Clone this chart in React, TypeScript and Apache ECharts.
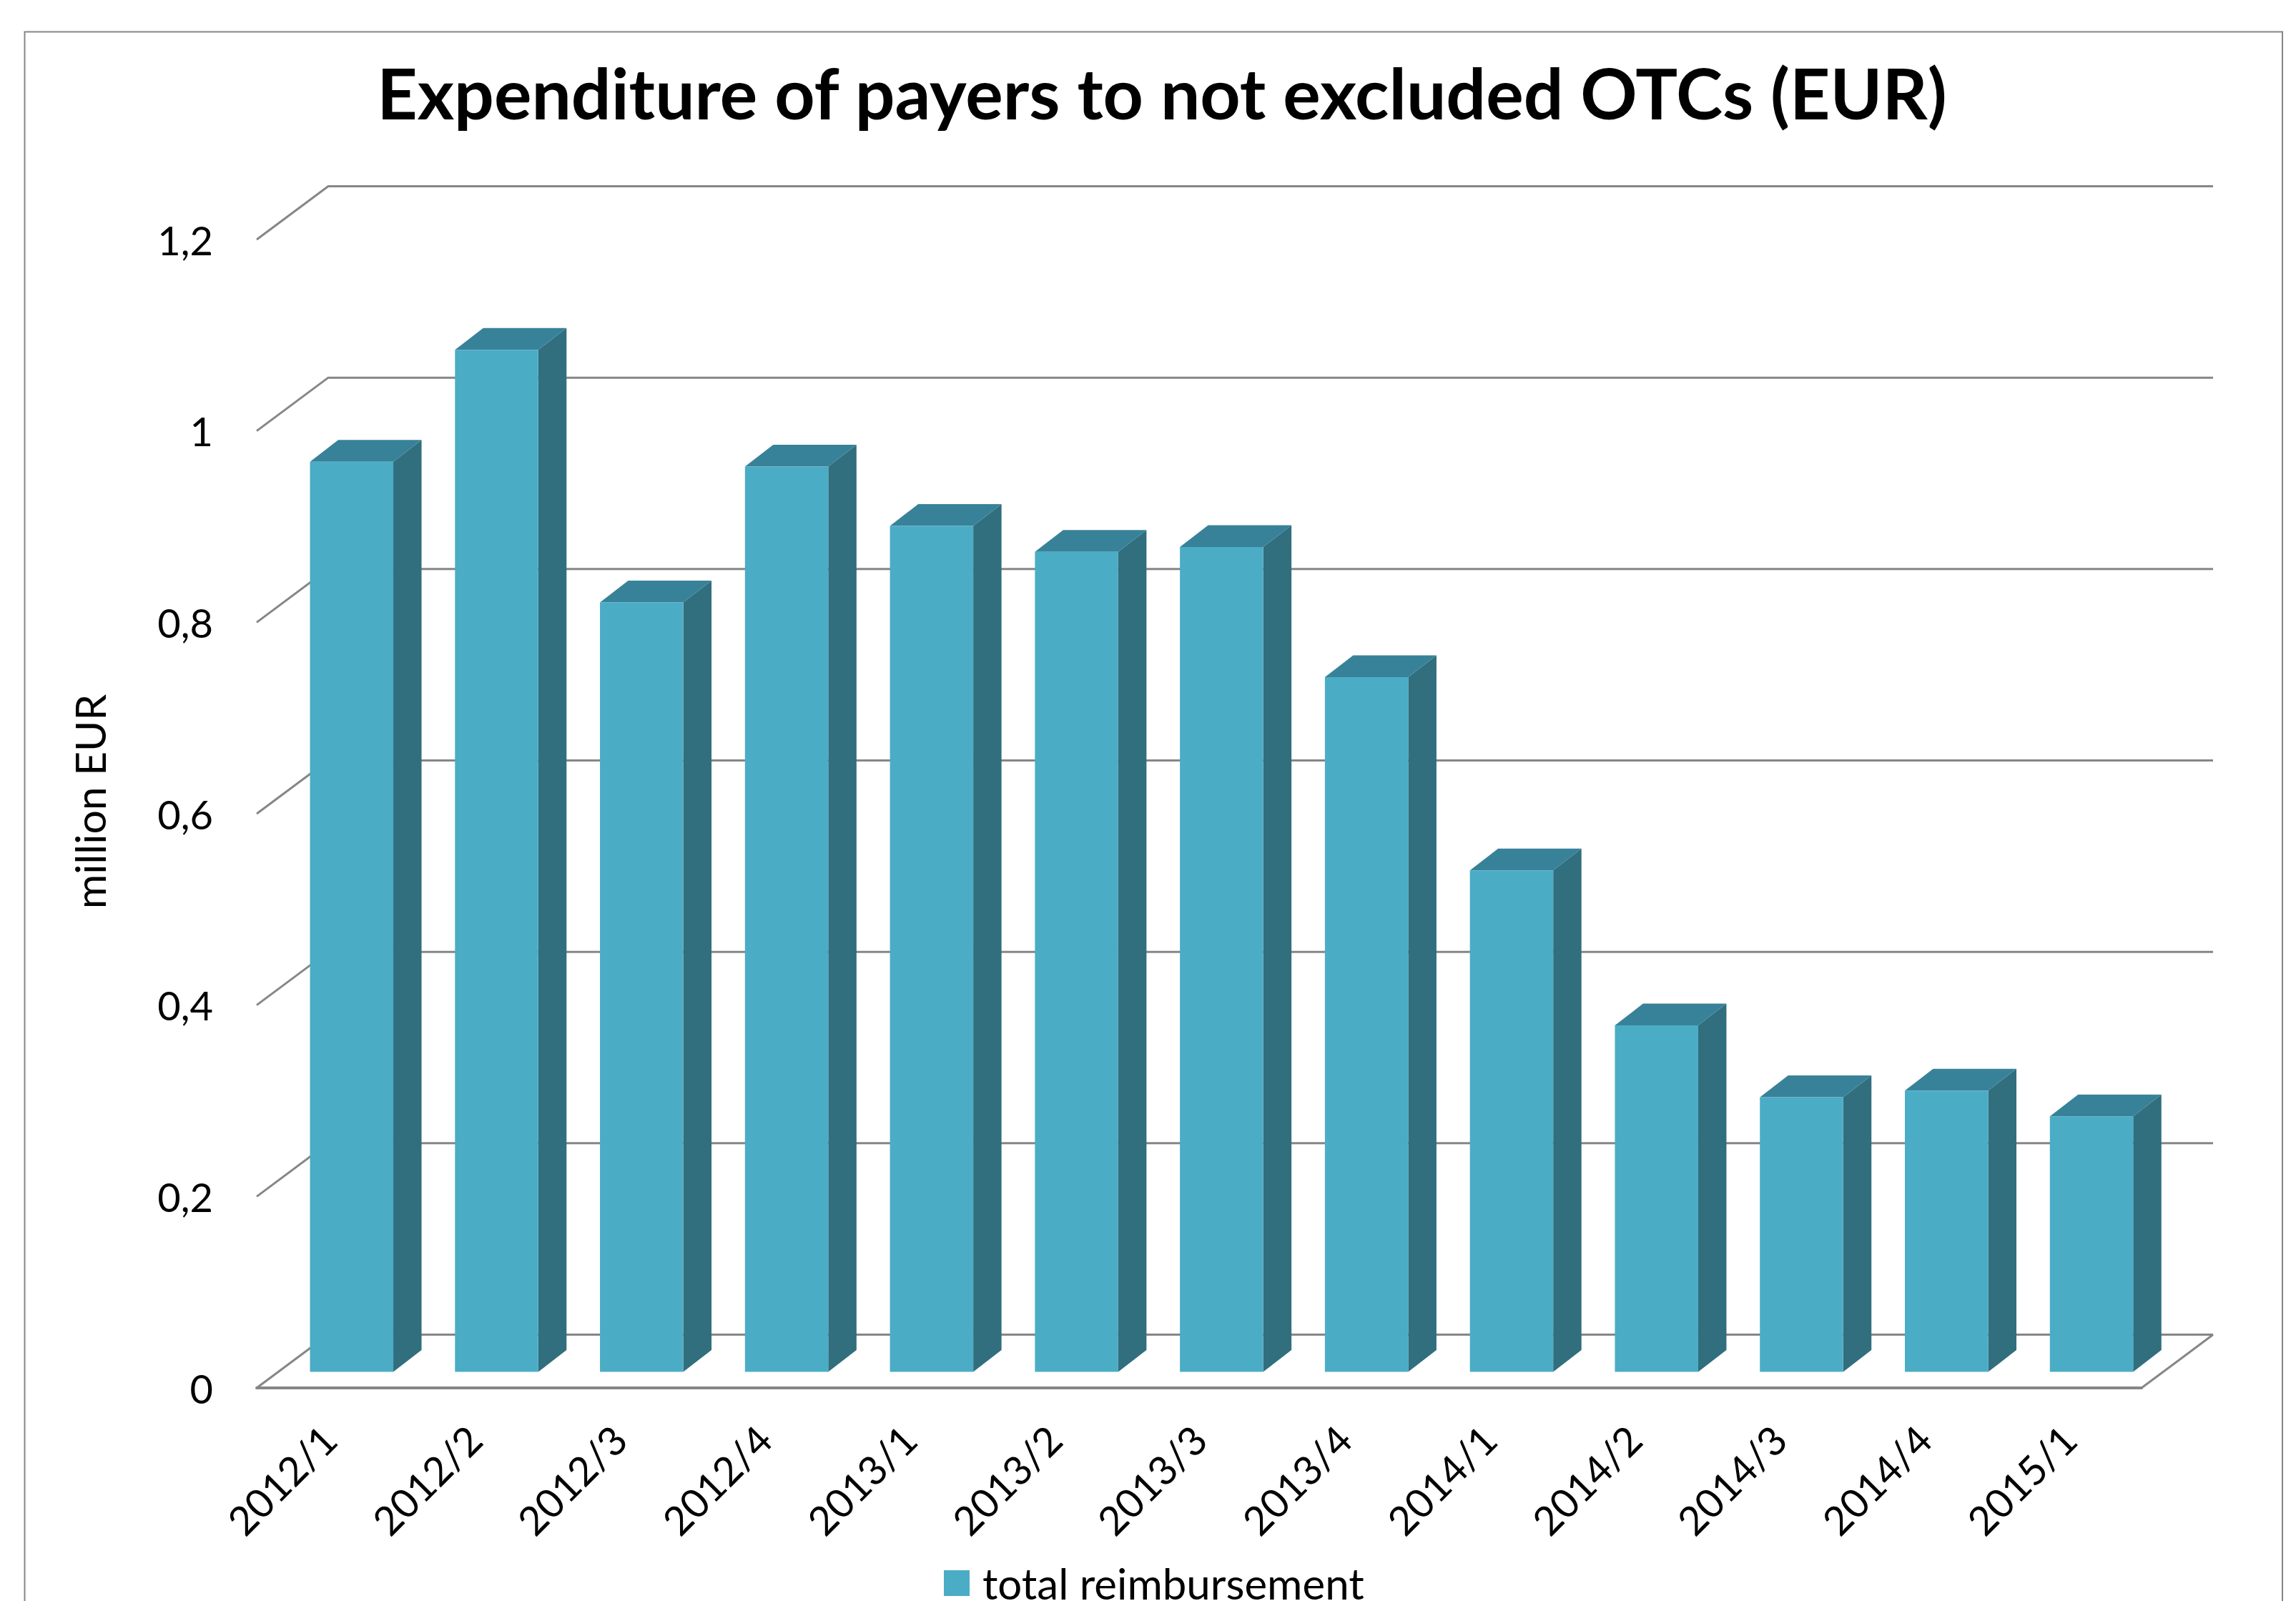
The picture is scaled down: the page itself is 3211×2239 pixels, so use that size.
import React, { useEffect, useRef } from "react";
import * as echarts from "echarts";

const categories = ["2012/1","2012/2","2012/3","2012/4","2013/1","2013/2","2013/3","2013/4","2014/1","2014/2","2014/3","2014/4","2015/1"];
const reimbursement = [0.951,1.068,0.804,0.946,0.884,0.857,0.862,0.726,0.524,0.362,0.287,0.294,0.267];
const gridTicks = [0,0.2,0.4,0.6,0.8,1,1.2];
const seriesName = "total reimbursement";
const titleText = "Expenditure of payers to not excluded OTCs (EUR)";
const yName = "million EUR";

const FONT = "Lato";
const GRID_COLOR = "#868686";
const FRONT = "#4BACC6";
const TOP = "#388299";
const SIDE = "#316E7E";

export default function App() {
  const ref = useRef<HTMLDivElement>(null);
  useEffect(() => {
    const chart = echarts.init(ref.current!, undefined, { renderer: "svg" });
    chart.setOption({
      animation: false,
      backgroundColor: "#ffffff",
      title: {
        text: titleText,
        left: 1625,
        top: 80,
        padding: 0,
        textAlign: "center",
        textStyle: { fontFamily: FONT, fontWeight: "bold", fontSize: 98.3, color: "#000000" },
      },
      legend: {
        data: [seriesName],
        left: 1320,
        top: 2184,
        padding: 0,
        itemWidth: 36,
        itemHeight: 36,
        itemGap: 0,
        icon: "rect",
        textStyle: { fontFamily: FONT, fontSize: 60, lineHeight: 30, color: "#000000", padding: [0, 0, 14, 13] },
      },
      graphic: [
        {
          type: "polyline",
          z: -1,
          shape: { points: [[34.5, 2239], [34.5, 44.5], [3192, 44.5], [3192, 2239]] },
          style: { stroke: GRID_COLOR, lineWidth: 2, fill: "none" },
        },
      ],
      grid: { left: 359, top: 335, width: 2636, height: 1606, containLabel: false },
      xAxis: {
        type: "category",
        data: categories,
        axisLine: { show: true, lineStyle: { color: GRID_COLOR, width: 4 } },
        axisTick: { show: false },
        splitLine: { show: false },
        axisLabel: {
          interval: 0,
          rotate: 45,
          margin: 62,
          fontFamily: FONT,
          fontSize: 56,
          color: "#000000",
        },
      },
      yAxis: {
        type: "value",
        min: 0,
        max: 1.2,
        interval: 0.2,
        name: yName,
        nameLocation: "middle",
        nameGap: 204,
        nameTextStyle: { fontFamily: FONT, fontSize: 59, color: "#000000", padding: [0, 0, 0, 34] },
        axisLine: { show: false },
        axisTick: { show: false },
        splitLine: { show: false },
        axisLabel: {
          margin: 61,
          fontFamily: FONT,
          fontSize: 56,
          color: "#000000",
          formatter: (v: number) => String(v).replace(".", ","),
        },
      },
      series: [
        {
          type: "custom",
          name: "grid",
          z: 1,
          data: gridTicks.map((t) => [0, t]),
          silent: true,
          renderItem: (params: any, api: any) => {
            const cs = params.coordSys;
            const y = api.coord([0, api.value(1)])[1];
            const left = cs.x;
            const right = cs.x + cs.width;
            const dx = 100;
            const dy = 74.5;
            const isZero = api.value(1) === 0;
            const children: any[] = [
              {
                type: "polyline",
                shape: { points: [[left, y], [left + dx, y - dy], [right + dx, y - dy]] },
                style: { stroke: GRID_COLOR, lineWidth: 3, fill: "none" },
              },
            ];
            if (isZero) {
              children.push({
                type: "line",
                shape: { x1: right, y1: y, x2: right + dx, y2: y - dy },
                style: { stroke: GRID_COLOR, lineWidth: 3 },
              });
            }
            return { type: "group", children };
          },
        },
        {
          type: "custom",
          name: seriesName,
          z: 2,
          itemStyle: { color: FRONT },
          data: categories.map((c, i) => [c, reimbursement[i]]),
          encode: { x: 0, y: 1 },
          renderItem: (_params: any, api: any) => {
            const top = api.coord([api.value(0), api.value(1)]);
            const base = api.coord([api.value(0), 0]);
            const w = 116.5;
            const sx = 39.5;
            const sy = 30.5;
            const l = top[0] + 31.4 - w / 2;
            const r = l + w;
            const t = top[1] - 22.4;
            const b = base[1] - 22.4;
            return {
              type: "group",
              children: [
                {
                  type: "polygon",
                  shape: { points: [[r, b], [r + sx, b - sy], [r + sx, t - sy], [r, t]] },
                  style: { fill: SIDE },
                },
                {
                  type: "polygon",
                  shape: { points: [[l, t], [l + sx, t - sy], [r + sx, t - sy], [r, t]] },
                  style: { fill: TOP },
                },
                { type: "rect", shape: { x: l, y: t, width: w, height: b - t }, style: { fill: FRONT } },
              ],
            };
          },
        },
      ],
    });
    return () => chart.dispose();
  }, []);
  return <div ref={ref} style={{ position: "fixed", left: 0, top: 0, width: 3211, height: 2239 }} />;
}
